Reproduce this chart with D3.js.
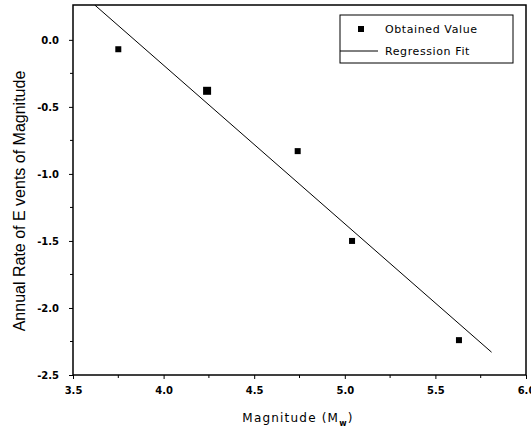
<!DOCTYPE html>
<html>
<head>
<meta charset="utf-8">
<script src="https://cdn.jsdelivr.net/npm/d3@7"></script>
<style>
  body { margin: 0; background: #fff; }
  svg { display: block; }
</style>
</head>
<body>
<div id="chart"></div>
<script>
// Chart data
const magnitudes = [3.75, 4.24, 4.74, 5.04, 5.63];
const annualRates = [-0.07, -0.38, -0.83, -1.50, -2.24];
const pointSizes = [6, 8, 6, 6, 6];
const fitX = [3.62, 5.81];
const fitY = [0.26, -2.33];
const xTicks = [3.5, 4.0, 4.5, 5.0, 5.5, 6.0];
const yTicks = [0.0, -0.5, -1.0, -1.5, -2.0, -2.5];

const width = 531;
const height = 432;
const margin = { top: 5, right: 5, bottom: 57, left: 73 };

const svg = d3.select("#chart").append("svg")
    .attr("width", width)
    .attr("height", height);

const x = d3.scaleLinear().domain([3.5, 6.0]).range([margin.left, width - margin.right]);
const y = d3.scaleLinear().domain([-2.5, 0.26]).range([height - margin.bottom, margin.top]);

// clip for the fit line
svg.append("clipPath").attr("id", "plot-clip")
    .append("rect")
    .attr("x", margin.left).attr("y", margin.top)
    .attr("width", x(6.0) - margin.left)
    .attr("height", y(-2.5) - margin.top);

const tickFont = "'DejaVu Sans', sans-serif";
const fmt = d => d.toFixed(1);

// x axis
const xAxis = svg.append("g")
    .attr("transform", `translate(0,${y(-2.5)})`)
    .call(d3.axisBottom(x).tickValues(xTicks).tickFormat(fmt).tickSize(4).tickPadding(8));
xAxis.append("g").selectAll("line")
    .data(d3.range(3.75, 6.0, 0.5))
    .enter().append("line")
    .attr("x1", d => x(d)).attr("x2", d => x(d))
    .attr("y1", 0).attr("y2", 3)
    .attr("stroke", "#000");

// y axis
const yAxis = svg.append("g")
    .attr("transform", `translate(${x(3.5)},0)`)
    .call(d3.axisLeft(y).tickValues(yTicks).tickFormat(fmt).tickSize(4).tickPadding(10));
yAxis.append("g").selectAll("line")
    .data(d3.range(-2.25, 0.1, 0.5))
    .enter().append("line")
    .attr("x1", 0).attr("x2", -3)
    .attr("y1", d => y(d)).attr("y2", d => y(d))
    .attr("stroke", "#000");

[xAxis, yAxis].forEach(g => {
    g.select(".domain").remove();
    g.selectAll("text")
        .attr("font-family", tickFont)
        .attr("font-size", 10)
        .attr("font-weight", "bold")
        .attr("fill", "#000");
});

// frame
svg.append("rect")
    .attr("x", margin.left).attr("y", margin.top)
    .attr("width", x(6.0) - margin.left)
    .attr("height", y(-2.5) - margin.top)
    .attr("fill", "none")
    .attr("stroke", "#000")
    .attr("stroke-width", 1.5);

// regression line
svg.append("line")
    .attr("clip-path", "url(#plot-clip)")
    .attr("x1", x(fitX[0])).attr("y1", y(fitY[0]))
    .attr("x2", x(fitX[1])).attr("y2", y(fitY[1]))
    .attr("stroke", "#000")
    .attr("stroke-width", 1);

// observed points
svg.append("g").selectAll("rect")
    .data(magnitudes)
    .enter().append("rect")
    .attr("x", (d, i) => x(d) - pointSizes[i] / 2)
    .attr("y", (d, i) => y(annualRates[i]) - pointSizes[i] / 2)
    .attr("width", (d, i) => pointSizes[i])
    .attr("height", (d, i) => pointSizes[i])
    .attr("fill", "#000");

// legend
const legend = svg.append("g").attr("transform", "translate(340,15)");
legend.append("rect")
    .attr("width", 173).attr("height", 48)
    .attr("fill", "#fff").attr("stroke", "#000").attr("stroke-width", 1);
legend.append("rect")
    .attr("x", 18).attr("y", 11).attr("width", 6).attr("height", 6)
    .attr("fill", "#000");
legend.append("line")
    .attr("x1", 0).attr("x2", 38).attr("y1", 36).attr("y2", 36)
    .attr("stroke", "#000");
legend.selectAll("text.lbl")
    .data(["Obtained Value", "Regression Fit"])
    .enter().append("text")
    .attr("class", "lbl")
    .attr("x", 45)
    .attr("y", (d, i) => 18 + i * 22)
    .attr("font-family", tickFont)
    .attr("font-size", 11)
    .attr("letter-spacing", 0.6)
    .text(d => d);

// axis titles
const xTitle = svg.append("text")
    .attr("x", 298).attr("y", 422)
    .attr("text-anchor", "middle")
    .attr("font-family", tickFont)
    .attr("font-size", 12)
    .attr("letter-spacing", 1.2);
xTitle.append("tspan").text("Magnitude (M");
xTitle.append("tspan").attr("dy", 4).attr("font-size", 8).attr("font-weight", "bold").text("w");
xTitle.append("tspan").attr("dy", -4).text(")");

svg.append("text")
    .attr("transform", "translate(25,201) rotate(-90)")
    .attr("text-anchor", "middle")
    .attr("font-family", "'Liberation Sans', Arial, sans-serif")
    .attr("font-size", 16)
    .text("Annual Rate of E vents of Magnitude");
</script>
</body>
</html>
